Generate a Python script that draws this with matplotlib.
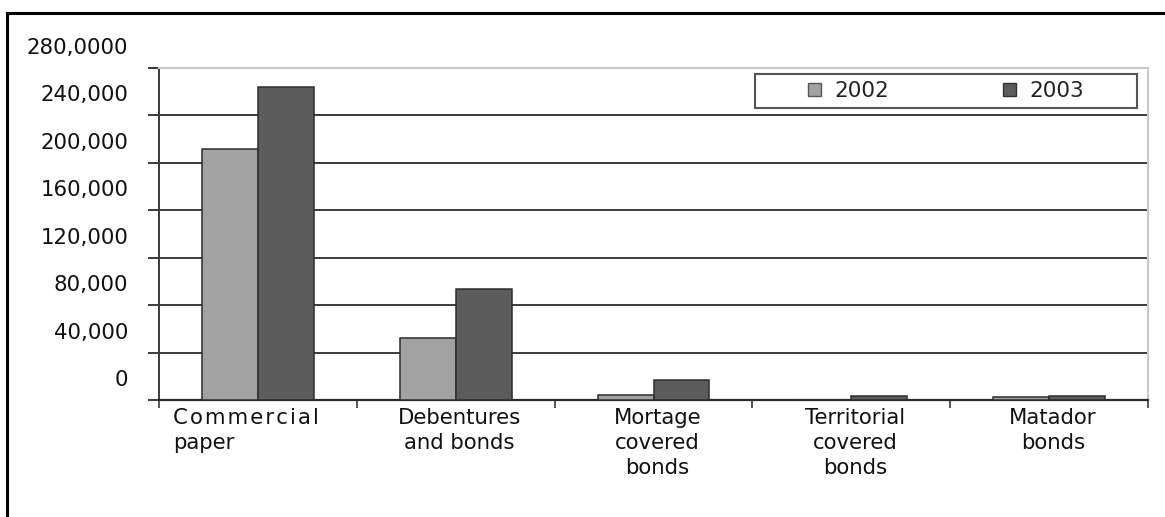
import matplotlib
matplotlib.use("Agg")
import matplotlib.pyplot as plt
import matplotlib.transforms as mtransforms
from matplotlib.lines import Line2D
from matplotlib.patches import Rectangle, Patch
import numpy as np

# ---- data ----
categories = ["Commercial\npaper", "Debentures\nand bonds", "Mortage\ncovered\nbonds",
              "Territorial\ncovered\nbonds", "Matador\nbonds"]
series_names = ["2002", "2003"]
values_2002 = [212000, 52000, 4000, 0, 2500]
values_2003 = [264000, 94000, 17000, 3500, 3000]
ytick_values = [0, 40000, 80000, 120000, 160000, 200000, 240000, 280000]
ytick_labels = ["0", "40,000", "80,000", "120,000", "160,000", "200,000", "240,000", "280,0000"]

colors = ["#a2a2a2", "#5c5c5c"]
edge = "#2e2e2e"

W, H = 1165, 517
fig = plt.figure(figsize=(W / 100, H / 100), dpi=100)
plt.rcParams['font.family'] = ['DejaVu Sans']

# outer frame (top and left visible)
fig.add_artist(Line2D([7 / W, 1.0], [1 - 13 / H, 1 - 13 / H], color="black", lw=2.2,
                      transform=fig.transFigure))
fig.add_artist(Line2D([7 / W, 7 / W], [0, 1 - 13 / H], color="black", lw=2.2,
                      transform=fig.transFigure))

left, right = 159 / W, 1148 / W
bottom, top = 1 - 400 / H, 1 - 68 / H
ax = fig.add_axes([left, bottom, right - left, top - bottom])

x = np.arange(len(categories))
bw = 0.283
ax.bar(x - bw / 2, values_2002, bw, color=colors[0], edgecolor=edge, linewidth=1.1, zorder=3)
ax.bar(x + bw / 2, values_2003, bw, color=colors[1], edgecolor=edge, linewidth=1.1, zorder=3)

ax.set_xlim(-0.5, len(categories) - 0.5)
ax.set_ylim(0, 280000)

# gridlines
for v in ytick_values[1:-1]:
    ax.axhline(v, color="#3a3a3a", lw=1.4, zorder=1)

ax.set_yticks(ytick_values)
ax.set_yticklabels(ytick_labels, fontsize=15.3, color="#111111")
ax.tick_params(axis="y", length=8, width=1.4, color="#3a3a3a", pad=14)
offset = mtransforms.ScaledTranslation(0, 0.22, fig.dpi_scale_trans)
for lbl in ax.get_yticklabels():
    lbl.set_transform(lbl.get_transform() + offset)

# x ticks at category boundaries
ax.set_xticks(np.arange(len(categories) + 1) - 0.5)
ax.set_xticklabels([])
ax.tick_params(axis="x", length=6, width=1.2, color="#3a3a3a", direction="out")

for s in ["top", "right"]:
    ax.spines[s].set_color("#c8c8c8")
    ax.spines[s].set_linewidth(1.5)
ax.spines["left"].set_color("#3a3a3a")
ax.spines["left"].set_linewidth(1.4)
ax.spines["bottom"].set_color("#2a2a2a")
ax.spines["bottom"].set_linewidth(1.6)

# category labels
trans = mtransforms.blended_transform_factory(ax.transData, ax.transAxes)
for i, c in enumerate(categories):
    if i == 0:
        first, rest = c.split("\n", 1)
        spaced = "\u200a".join(first)
        ax.text(i - 0.43, -0.025, spaced + "\n" + rest, transform=trans, ha="left", va="top",
                fontsize=15.3, color="#111111", linespacing=1.3)
    else:
        ax.text(i + 0.02, -0.025, c, transform=trans, ha="center", va="top",
                fontsize=15.3, color="#111111", linespacing=1.3, multialignment="center")

# legend box
lx0 = (755 - 159) / (1148 - 159)
lx1 = (1137 - 159) / (1148 - 159)
ly0 = (400 - 108) / 332
ly1 = (400 - 74) / 332
ax.add_patch(Rectangle((lx0, ly0), lx1 - lx0, ly1 - ly0, transform=ax.transAxes,
                       facecolor="white", edgecolor="#555555", lw=1.5, zorder=5))
handles = [Patch(facecolor=colors[0], edgecolor="#555555"),
           Patch(facecolor=colors[1], edgecolor="#333333")]
leg = ax.legend(handles, series_names, ncol=2, frameon=False, loc="center",
                bbox_to_anchor=((lx0 + lx1) / 2, (ly0 + ly1) / 2),
                fontsize=15.5, handlelength=0.6, handleheight=0.6, handletextpad=0.6,
                columnspacing=5.3, borderpad=0)
leg.set_zorder(6)
for t in leg.get_texts():
    t.set_color("#222222")

fig.savefig("out.png", dpi=100)
